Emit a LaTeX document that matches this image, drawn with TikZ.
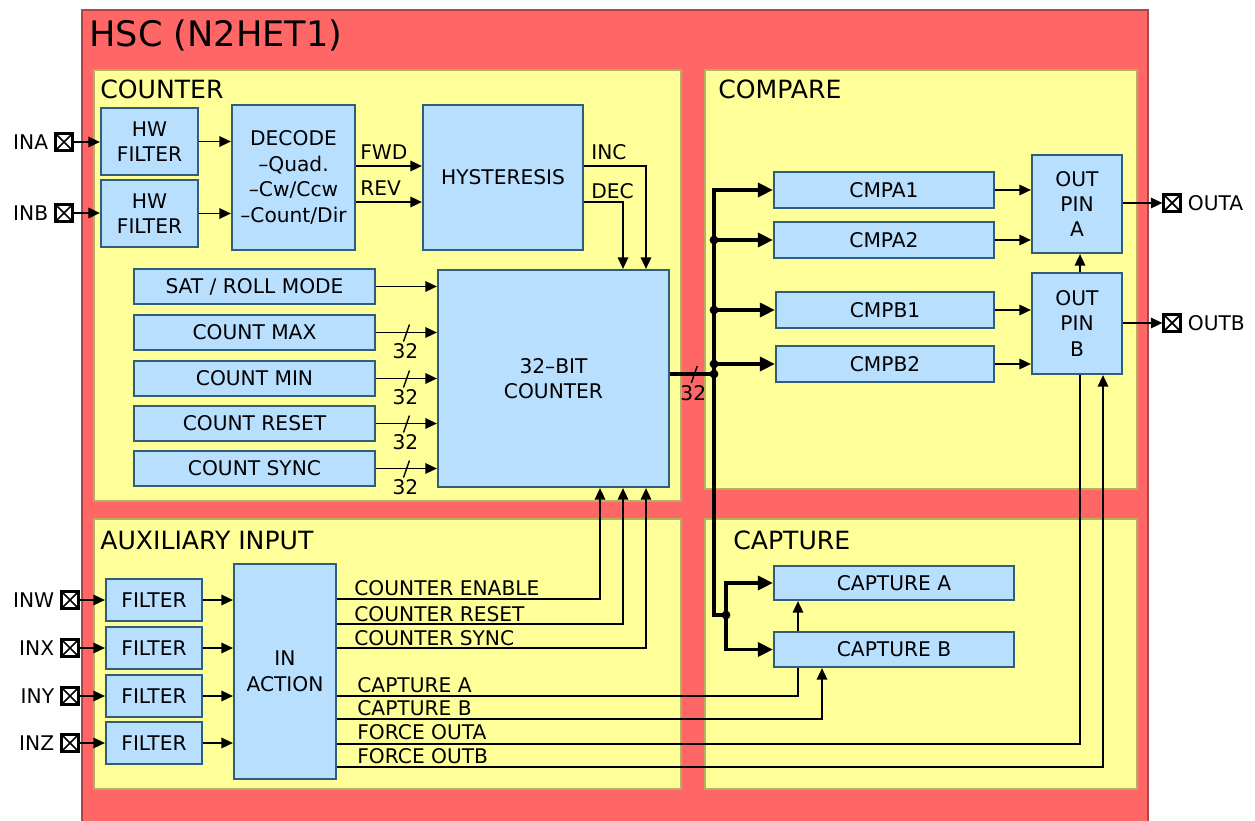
\documentclass[tikz,border=0pt]{standalone}
\usepackage{fontspec}
\setmainfont{DejaVu Sans}
\usetikzlibrary{arrows.meta}

\definecolor{hscred}{HTML}{FF6666}
\definecolor{hscedge}{HTML}{A84848}
\definecolor{panelfill}{HTML}{FFFF99}
\definecolor{paneledge}{HTML}{B5B060}
\definecolor{blkfill}{HTML}{B9DFFF}
\definecolor{blkedge}{HTML}{2E5E7E}

\newcommand\blkfont{\fontsize{11.5}{14.5}\selectfont}

\begin{document}
\begin{tikzpicture}[
        x=0.02cm, y=-0.02cm,
        hsc/.style={fill=hscred,draw=hscedge,line width=1.2pt},
        panel/.style={fill=panelfill,draw=paneledge,line width=1.4pt},
        blk/.style={fill=blkfill,draw=blkedge,line width=1.3pt,inner sep=0pt,align=center,font=\blkfont},
        bsize/.style 2 args={minimum width=#1*0.02cm,minimum height=#2*0.02cm},
        heading/.style={anchor=base west,inner sep=0pt,font=\fontsize{14.3}{16}\selectfont},
        lbl/.style={anchor=base west,inner sep=0pt,font=\blkfont},
        sig/.style={-{Triangle[length=6.5pt,width=6pt]},line width=0.8pt},
        wire/.style={line width=0.8pt},
        bus/.style={line width=1.8pt},
        busarr/.style={bus,-{Triangle[length=8.5pt,width=8pt]}},
        jdot/.style={circle,fill=black,inner sep=0pt,minimum size=5pt},
        iopin/.style={draw,line width=1.6pt,fill=white,minimum size=0.33cm,inner sep=0pt,
            path picture={\draw[line width=1pt]
                (path picture bounding box.north west) -- (path picture bounding box.south east)
                (path picture bounding box.north east) -- (path picture bounding box.south west);}},
        every label/.style={font=\blkfont},
        pics/wmark/.style={code={
            \draw[wire] (-3,9) -- (3,-8);
            \node[font=\blkfont] (-w) at (-1,19) {32};}}
    ]
    \useasboundingbox (0,0) rectangle (1255,821);

    % frame and panels
    \draw[hsc] (82,10) rectangle (1148,840);
    \node[anchor=base west,inner sep=0pt,font=\fontsize{20}{23}\selectfont] (title) at (89,47) {HSC (N2HET1)};

    \draw[panel] (94,70) rectangle (681,501);
    \draw[panel] (705,70) rectangle (1137,489);
    \draw[panel] (94,519) rectangle (681,789);
    \draw[panel] (705,519) rectangle (1137,789);
    \node[heading] (hcnt) at (100,99) {COUNTER};
    \node[heading] (hcmp) at (718,99) {COMPARE};
    \node[heading] (haux) at (100,549) {AUXILIARY INPUT};
    \node[heading] (hcap) at (733,549) {CAPTURE};

    % counter
    \node[blk,bsize={97}{67}] (hwa) at (149.5,141.5) {HW\\FILTER};
    \node[blk,bsize={97}{67}] (hwb) at (149.5,213.5) {HW\\FILTER};
    \node[blk,bsize={123}{145}] (dec) at (293.5,177.5) {DECODE\\–Quad.\\–Cw/Ccw\\–Count/Dir};
    \node[blk,bsize={160}{145}] (hys) at (503,177.5) {HYSTERESIS};
    \node[blk,bsize={241}{35}] (sat) at (254.5,286.5) {SAT / ROLL MODE};
    \node[blk,bsize={241}{35}] (cmax) at (254.5,332.5) {COUNT MAX};
    \node[blk,bsize={241}{35}] (cmin) at (254.5,378.5) {COUNT MIN};
    \node[blk,bsize={241}{35}] (crst) at (254.5,423.5) {COUNT RESET};
    \node[blk,bsize={241}{35}] (csync) at (254.5,468.5) {COUNT SYNC};
    \node[blk,bsize={231}{217}] (cnt) at (553.5,378.5) {32–BIT\\COUNTER};

    % compare
    \node[blk,bsize={220}{36}] (cmpa1) at (884,190) {CMPA1};
    \node[blk,bsize={220}{36}] (cmpa2) at (884,240) {CMPA2};
    \node[blk,bsize={218}{36}] (cmpb1) at (885,310) {CMPB1};
    \node[blk,bsize={218}{36}] (cmpb2) at (885,364) {CMPB2};
    \node[blk,bsize={90}{98}] (outa) at (1077,204) {OUT\\PIN\\A};
    \node[blk,bsize={90}{101}] (outb) at (1077,323.5) {OUT\\PIN\\B};

    % capture
    \node[blk,bsize={240}{34}] (capa) at (894,583) {CAPTURE A};
    \node[blk,bsize={240}{35}] (capb) at (894,649.5) {CAPTURE B};

    % auxiliary input
    \node[blk,bsize={96}{42}] (fw) at (154,600) {FILTER};
    \node[blk,bsize={96}{42}] (fx) at (154,648) {FILTER};
    \node[blk,bsize={96}{42}] (fy) at (154,696) {FILTER};
    \node[blk,bsize={96}{42}] (fz) at (154,743) {FILTER};
    \node[blk,bsize={102}{215}] (act) at (285,671.5) {IN\\ACTION};

    % pins
    \node[iopin,label=left:INA] (pina) at (64,142) {};
    \node[iopin,label=left:INB] (pinb) at (64,213) {};
    \node[iopin,label=left:INW] (pinw) at (70,600) {};
    \node[iopin,label=left:INX] (pinx) at (70,648) {};
    \node[iopin,label=left:INY] (piny) at (70,696) {};
    \node[iopin,label=left:INZ] (pinz) at (70,743) {};
    \node[iopin,label=right:OUTA] (pouta) at (1172,203) {};
    \node[iopin,label=right:OUTB] (poutb) at (1172,323) {};

    % counter wiring
    \draw[sig] (pina) -- (pina -| hwa.west);
    \draw[sig] (pinb) -- (pinb -| hwb.west);
    \draw[sig] (hwa) -- (hwa -| dec.west);
    \draw[sig] (hwb) -- (hwb -| dec.west);
    \draw[sig] (dec.east |- 0,166) -- (hys.west |- 0,166);
    \draw[sig] (dec.east |- 0,202) -- (hys.west |- 0,202);
    \node[lbl] (lfwd) at (360,160) {FWD};
    \node[lbl] (lrev) at (360,195) {REV};
    \draw[sig] (hys.east |- 0,166) -| (646,0 |- cnt.north);
    \draw[sig] (hys.east |- 0,202) -| (623,0 |- cnt.north);
    \node[lbl] (linc) at (591,160) {INC};
    \node[lbl] (ldec) at (591,198) {DEC};

    \draw[sig] (sat) -- (sat -| cnt.west);
    \draw[sig] (cmax) -- (cmax -| cnt.west) coordinate[midway] (wmax);
    \draw[sig] (cmin) -- (cmin -| cnt.west) coordinate[midway] (wmin);
    \draw[sig] (crst) -- (crst -| cnt.west) coordinate[midway] (wrst);
    \draw[sig] (csync) -- (csync -| cnt.west) coordinate[midway] (wsync);
    \pic (smax) at (wmax) {wmark};
    \pic (smin) at (wmin) {wmark};
    \pic (srst) at (wrst) {wmark};
    \pic (ssync) at (wsync) {wmark};

    % 32-bit bus to compare and capture
    \coordinate (jc) at (714,374);
    \coordinate (jtop) at (714,190);
    \coordinate (jbot) at (714,615);
    \coordinate (jcap) at (726,615);
    \draw[bus] (cnt.east |- jc) -- (jc) coordinate[pos=0.55] (wbus);
    \pic (sbus) at (wbus) {wmark};
    \draw[busarr] (jcap) -- (jbot) -- (jtop) -- (cmpa1.west);
    \node[jdot] (da2) at (jtop |- cmpa2.west) {};
    \node[jdot] (db1) at (jtop |- cmpb1.west) {};
    \node[jdot] (db2) at (jtop |- cmpb2.west) {};
    \node[jdot] (dc) at (jc) {};
    \node[jdot] (dcap) at (jcap) {};
    \draw[busarr] (da2.center) -- (cmpa2.west);
    \draw[busarr] (db1.center) -- (cmpb1.west);
    \draw[busarr] (db2.center) -- (cmpb2.west);
    \draw[busarr] (dcap.center) |- (capa.west);
    \draw[busarr] (dcap.center) |- (capb.west);

    % compare wiring
    \draw[sig] (cmpa1) -- (cmpa1 -| outa.west);
    \draw[sig] (cmpa2) -- (cmpa2 -| outa.west);
    \draw[sig] (cmpb1) -- (cmpb1 -| outb.west);
    \draw[sig] (cmpb2) -- (cmpb2 -| outb.west);
    \draw[sig] (outb.north -| 1080,0) -- (outa.south -| 1080,0);
    \draw[sig] (outa.east |- pouta) -- (pouta);
    \draw[sig] (outb.east |- poutb) -- (poutb);

    % auxiliary wiring
    \foreach \p/\f in {pinw/fw,pinx/fx,piny/fy,pinz/fz}{
        \draw[sig] (\p) -- (\p -| \f.west);
        \draw[sig] (\f) -- (\f -| act.west);
    }
    \draw[sig] (act.east |- 0,599) -| (600,0 |- cnt.south);
    \draw[sig] (act.east |- 0,624) -| (623,0 |- cnt.south);
    \draw[sig] (act.east |- 0,648) -| (646,0 |- cnt.south);
    \draw[wire] (act.east |- 0,696) -| (798,0 |- capb.south);
    \draw[sig] (capb.north -| 798,0) -- (capa.south -| 798,0);
    \draw[sig] (act.east |- 0,719) -| (822,0 |- capb.south);
    \draw[wire] (act.east |- 0,744) -| (1080,0 |- outb.south);
    \draw[sig] (act.east |- 0,767) -| (1103,0 |- outb.south);
    \node[lbl] (len) at (354,595) {COUNTER ENABLE};
    \node[lbl] (lcr) at (354,621) {COUNTER RESET};
    \node[lbl] (lcs) at (354,645) {COUNTER SYNC};
    \node[lbl] (lca) at (357,692) {CAPTURE A};
    \node[lbl] (lcb) at (357,715) {CAPTURE B};
    \node[lbl] (lfa) at (357,739) {FORCE OUTA};
    \node[lbl] (lfb) at (357,763) {FORCE OUTB};
\end{tikzpicture}
\end{document}
